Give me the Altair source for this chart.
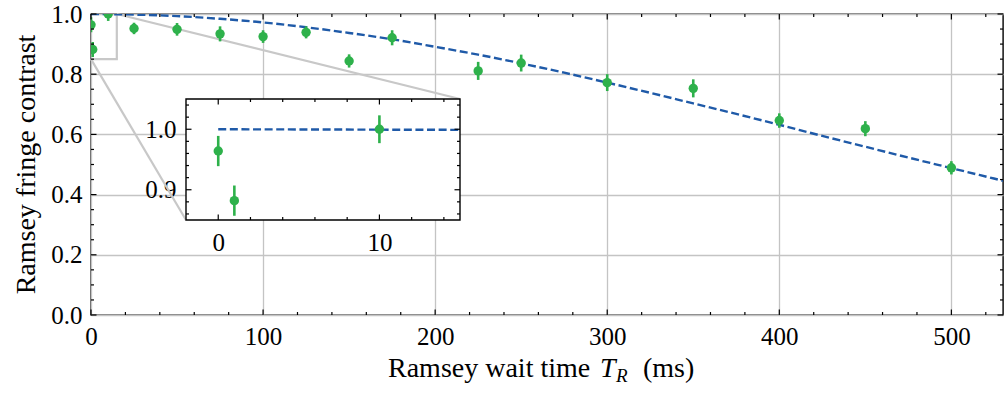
import altair as alt
import pandas as pd

# ---------------- data ----------------
wait_time = [0, 1, 10, 25, 50, 75, 100, 125, 150, 175, 225, 250, 300, 350, 400, 450, 500]
contrast = [0.964, 0.882, 1.0, 0.952, 0.949, 0.934, 0.925, 0.939, 0.844, 0.921,
            0.811, 0.837, 0.772, 0.753, 0.646, 0.619, 0.489]
contrast_err = [0.025, 0.025, 0.023, 0.019, 0.021, 0.025, 0.021, 0.02, 0.022, 0.025,
                0.03, 0.028, 0.028, 0.03, 0.024, 0.025, 0.022]

fit_time = [0, 25, 50, 75, 100, 125, 150, 175, 200, 225, 250, 275, 300, 325, 350,
            375, 400, 425, 450, 475, 500, 530]
fit_contrast = [1.0, 0.998, 0.993, 0.984, 0.972, 0.956, 0.937, 0.916, 0.891, 0.865,
                0.836, 0.805, 0.772, 0.738, 0.703, 0.668, 0.632, 0.595, 0.559, 0.523,
                0.488, 0.446]

inset_fit_time = [0, 15]
inset_fit_contrast = [1.0, 0.999]

x_limits = [0, 530]
y_limits = [0.0, 1.0]
inset_x_limits = [-2, 15]
inset_y_limits = [0.85, 1.05]
zoom_box_x = [-2, 15]
zoom_box_y = [0.85, 1.0]

x_major = [0, 100, 200, 300, 400, 500]
x_minor = [20, 40, 60, 80, 120, 140, 160, 180, 220, 240, 260, 280, 320, 340, 360, 380,
           420, 440, 460, 480, 520]
y_major = [0.0, 0.2, 0.4, 0.6, 0.8, 1.0]
y_minor = [0.05, 0.1, 0.15, 0.25, 0.3, 0.35, 0.45, 0.5, 0.55, 0.65, 0.7, 0.75, 0.85,
           0.9, 0.95]
inset_x_major = [0, 10]
inset_x_minor = [2, 4, 6, 8, 12, 14]
inset_y_major = [0.9, 1.0]
inset_y_minor = [0.86, 0.88, 0.92, 0.94, 0.96, 0.98, 1.02, 1.04]

x_title_parts = ["Ramsey wait time", "T", "R", "(ms)"]
y_title = "Ramsey fringe contrast"

# ---------------- layout / style ----------------
W, H = 912, 301
IN_L, IN_R, IN_T, IN_B = 95, 369, 85, 206   # inset box inside the plot area (px)
FONT = "'Liberation Serif', 'DejaVu Serif', serif"
GREEN = "#2eb14b"
BLUE = "#1f5aa8"
GRID = "#c4c4c4"
ZOOMC = "#c8c8c8"
MAJ, MIN = 5.5, 3.0

df = pd.DataFrame({"t": wait_time, "c": contrast, "e": contrast_err})
fit_df = pd.DataFrame({"t": fit_time, "c": fit_contrast})
ifit_df = pd.DataFrame({"t": inset_fit_time, "c": inset_fit_contrast})

xs = alt.Scale(domain=x_limits, nice=False, zero=False)
ys = alt.Scale(domain=y_limits, nice=False, zero=False)
ixs = alt.Scale(domain=inset_x_limits, range=[IN_L, IN_R], nice=False, zero=False)
iys = alt.Scale(domain=inset_y_limits, range=[IN_B, IN_T], nice=False, zero=False)

lab = dict(labelFont=FONT, labelFontSize=25, labelColor="black", labelFlush=False,
           labelOverlap=False, ticks=False, domain=False, title=None)
xaxis = alt.Axis(values=x_major, grid=True, gridColor=GRID, gridWidth=1.3,
                 labelPadding=9, **lab)
yaxis = alt.Axis(values=y_major, grid=True, gridColor=GRID, gridWidth=1.3,
                 format=".1f", labelPadding=9, **lab)
ixaxis = alt.Axis(values=inset_x_major, grid=False, orient="bottom", offset=-(H - IN_B),
                  labelPadding=10, **lab)
iyaxis = alt.Axis(values=inset_y_major, grid=False, orient="left", offset=-IN_L,
                  format=".1f", labelPadding=10, **lab)


def xticks(vals, scale, axis, y0, length):
    return alt.Chart(pd.DataFrame({"v": vals})).mark_rule(color="black", strokeWidth=1.2).encode(
        x=alt.X("v:Q", scale=scale, axis=axis), y=alt.value(y0), y2=alt.value(y0 + length))


def yticks(vals, scale, axis, x0, length):
    return alt.Chart(pd.DataFrame({"v": vals})).mark_rule(color="black", strokeWidth=1.2).encode(
        y=alt.Y("v:Q", scale=scale, axis=axis), x=alt.value(x0), x2=alt.value(x0 + length))


# ---------------- main panel ----------------
zoom_rect = alt.Chart(pd.DataFrame({"x0": [zoom_box_x[0]], "x1": [zoom_box_x[1]],
                                    "y0": [zoom_box_y[0]], "y1": [zoom_box_y[1]]})).mark_rect(
    fill=None, stroke=ZOOMC, strokeWidth=2.2, clip=True).encode(
    x=alt.X("x0:Q", scale=xs, axis=xaxis), x2="x1:Q",
    y=alt.Y("y0:Q", scale=ys, axis=yaxis), y2="y1:Q")

conn_top = alt.Chart(pd.DataFrame({"x": [zoom_box_x[1]], "y": [zoom_box_y[1]]})).mark_rule(
    color=ZOOMC, strokeWidth=2.2).encode(
    x=alt.X("x:Q", scale=xs, axis=xaxis), y=alt.Y("y:Q", scale=ys, axis=yaxis),
    x2=alt.value(IN_R), y2=alt.value(IN_T))
conn_bot = alt.Chart(pd.DataFrame({"x": [0], "y": [zoom_box_y[0]]})).mark_rule(
    color=ZOOMC, strokeWidth=2.2).encode(
    x=alt.X("x:Q", scale=xs, axis=xaxis), y=alt.Y("y:Q", scale=ys, axis=yaxis),
    x2=alt.value(IN_L), y2=alt.value(IN_B))

fit_line = alt.Chart(fit_df).mark_line(color=BLUE, strokeWidth=2.4, strokeDash=[8, 3.6],
                                       interpolate="monotone", clip=True).encode(
    x=alt.X("t:Q", scale=xs, axis=xaxis), y=alt.Y("c:Q", scale=ys, axis=yaxis))

errbars = alt.Chart(df).transform_calculate(lo="datum.c - datum.e", hi="datum.c + datum.e").mark_rule(
    color=GREEN, strokeWidth=2.6, clip=True).encode(
    x=alt.X("t:Q", scale=xs, axis=xaxis), y=alt.Y("lo:Q", scale=ys, axis=yaxis), y2="hi:Q")

points = alt.Chart(df).mark_circle(color=GREEN, opacity=1, size=88, clip=True).encode(
    x=alt.X("t:Q", scale=xs, axis=xaxis), y=alt.Y("c:Q", scale=ys, axis=yaxis))

main_ticks = [
    xticks(x_major, xs, xaxis, H, -MAJ), xticks(x_minor, xs, xaxis, H, -MIN),
    xticks(x_major, xs, xaxis, 0, MAJ), xticks(x_minor, xs, xaxis, 0, MIN),
    yticks(y_major, ys, yaxis, 0, MAJ), yticks(y_minor, ys, yaxis, 0, MIN),
    yticks(y_major, ys, yaxis, W, -MAJ), yticks(y_minor, ys, yaxis, W, -MIN),
]


def text_piece(s, x, y, align, size, italic=False, angle=0):
    return alt.Chart(pd.DataFrame({"s": [s]})).mark_text(
        font=FONT, fontSize=size, fontStyle="italic" if italic else "normal",
        align=align, baseline="alphabetic", color="black", angle=angle).encode(
        x=alt.value(x), y=alt.value(y), text="s:N")


titles = [
    text_piece(x_title_parts[0], 297, 363, "left", 28),
    text_piece(x_title_parts[1], 509, 363, "left", 28, italic=True),
    text_piece(x_title_parts[2], 525, 368, "left", 19, italic=True),
    text_piece(x_title_parts[3], 552, 363, "left", 28),
    text_piece(y_title, -56, H / 2, "center", 28, angle=270),
]

main = alt.layer(zoom_rect, conn_top, conn_bot, fit_line, errbars, points, *main_ticks, *titles)

# ---------------- inset panel ----------------
inset_bg = alt.Chart(pd.DataFrame({"x0": [inset_x_limits[0]], "x1": [inset_x_limits[1]],
                                   "y0": [inset_y_limits[0]], "y1": [inset_y_limits[1]]})).mark_rect(
    fill="white", stroke="black", strokeWidth=1.4).encode(
    x=alt.X("x0:Q", scale=ixs, axis=ixaxis), x2="x1:Q",
    y=alt.Y("y0:Q", scale=iys, axis=iyaxis), y2="y1:Q")

inset_fit = alt.Chart(ifit_df).mark_line(color=BLUE, strokeWidth=2.4, strokeDash=[8, 3.6]).encode(
    x=alt.X("t:Q", scale=ixs, axis=ixaxis), y=alt.Y("c:Q", scale=iys, axis=iyaxis))

inset_err = alt.Chart(df).transform_filter("datum.t <= 15").transform_calculate(
    lo="datum.c - datum.e", hi="datum.c + datum.e").mark_rule(color=GREEN, strokeWidth=2.6).encode(
    x=alt.X("t:Q", scale=ixs, axis=ixaxis), y=alt.Y("lo:Q", scale=iys, axis=iyaxis), y2="hi:Q")

inset_pts = alt.Chart(df).transform_filter("datum.t <= 15").mark_circle(
    color=GREEN, opacity=1, size=88).encode(
    x=alt.X("t:Q", scale=ixs, axis=ixaxis), y=alt.Y("c:Q", scale=iys, axis=iyaxis))

inset_ticks = [
    xticks(inset_x_major, ixs, ixaxis, IN_B, -MAJ), xticks(inset_x_minor, ixs, ixaxis, IN_B, -MIN),
    xticks(inset_x_major, ixs, ixaxis, IN_T, MAJ), xticks(inset_x_minor, ixs, ixaxis, IN_T, MIN),
    yticks(inset_y_major, iys, iyaxis, IN_L, MAJ), yticks(inset_y_minor, iys, iyaxis, IN_L, MIN),
    yticks(inset_y_major, iys, iyaxis, IN_R, -MAJ), yticks(inset_y_minor, iys, iyaxis, IN_R, -MIN),
]

inset = alt.layer(inset_bg, inset_fit, inset_err, inset_pts, *inset_ticks)

chart = alt.layer(main, inset).resolve_scale(x="independent", y="independent").properties(
    width=W, height=H,
    autosize=alt.AutoSizeParams(type="none"),
    padding={"left": 91, "top": 14, "right": 3, "bottom": 79},
).configure_view(stroke="black", strokeWidth=1.4)

chart.save("out.html", embed_options={"renderer": "svg", "actions": False})
